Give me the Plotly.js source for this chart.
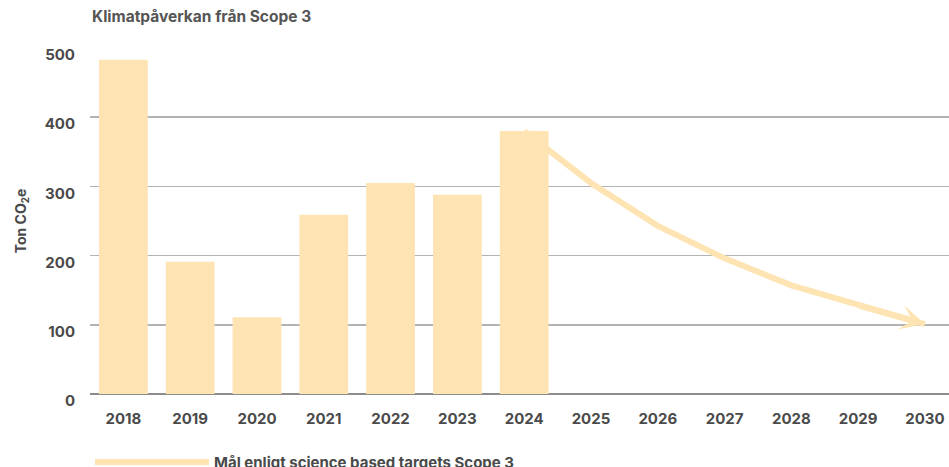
<!DOCTYPE html>
<html>
<head>
<meta charset="utf-8">
<script src="https://cdn.plot.ly/plotly-3.0.1.min.js"></script>
<style>html,body{margin:0;padding:0;background:#fff;}#chart{width:949px;height:467px;}</style>
</head>
<body>
<div id="chart"></div>
<script>
const years = ["2018","2019","2020","2021","2022","2023","2024","2025","2026","2027","2028","2029","2030"];
const barYears = ["2018","2019","2020","2021","2022","2023","2024"];
const barValues = [483, 191, 111, 259, 305, 288, 380];
const targetYears = ["2024","2025","2026","2027","2028","2029","2030"];
const targetValues = [380, 305, 243, 196, 157, 128, 101];
const yTicks = [0, 100, 200, 300, 400, 500];

const barColor = "#fee4b3";
const lineColor = "#fee4b3";
const textColor = "#4a4a4a";
const fontFam = "Inter, 'DejaVu Sans', sans-serif";

const n = targetYears.length;
const traces = [
  {
    type: "bar", x: barYears, y: barValues, marker: {color: barColor},
    width: 0.73, showlegend: false, hoverinfo: "skip"
  },
  {
    type: "scatter", mode: "lines", x: targetYears, y: targetValues,
    name: "Mål enligt science based targets Scope 3",
    line: {color: lineColor, width: 6},
    cliponaxis: false
  }
];

const layout = {
  width: 949, height: 467,
  margin: {l: 90, r: 0, t: 48, b: 73, autoexpand: false},
  paper_bgcolor: "#ffffff", plot_bgcolor: "#ffffff",
  font: {family: fontFam, color: textColor, weight: 700},
  title: {text: "Klimatpåverkan från Scope 3", x: 92/949, xanchor: "left", y: 1 - 17/467, yanchor: "middle",
          font: {size: 15.5, color: "#555555", family: fontFam, weight: 700}},
  xaxis: {
    type: "category", categoryorder: "array", categoryarray: years,
    range: [-0.5, 12.36], showgrid: false, zeroline: false, showline: false,
    ticks: "", tickfont: {size: 15, color: textColor, family: fontFam, weight: 700},
    ticklabelstandoff: 14, fixedrange: true, automargin: false
  },
  yaxis: {
    range: [0, 500], tickvals: yTicks, ticktext: yTicks.map(String),
    showgrid: true, gridcolor: "#b3b3b3", gridwidth: 1.5,
    zeroline: true, zerolinecolor: "#8c8c8c", zerolinewidth: 1.5,
    showline: false, ticks: "",
    tickfont: {size: 15, color: textColor, family: fontFam, weight: 700},
    ticklabelstandoff: 14, ticklabelshift: 7,
    title: {text: "Ton CO<sub>2</sub>e", standoff: 14, font: {size: 14, color: textColor, family: fontFam, weight: 700}},
    fixedrange: true, automargin: false
  },
  annotations: [{
    x: years.indexOf(targetYears[n - 1]), y: targetValues[n - 1], xref: "x", yref: "y",
    ax: years.indexOf(targetYears[n - 2]), ay: targetValues[n - 2], axref: "x", ayref: "y",
    text: "", showarrow: true, arrowhead: 3, arrowsize: 0.7, arrowwidth: 6,
    arrowcolor: lineColor, standoff: -3
  }],
  showlegend: true,
  legend: {
    orientation: "h", x: 0, xanchor: "left", y: -0.197, yanchor: "middle",
    font: {size: 15, color: textColor, family: fontFam, weight: 700},
    itemwidth: 114, bgcolor: "rgba(0,0,0,0)"
  }
};

Plotly.newPlot("chart", traces, layout, {displayModeBar: false, staticPlot: true});
</script>
</body>
</html>
